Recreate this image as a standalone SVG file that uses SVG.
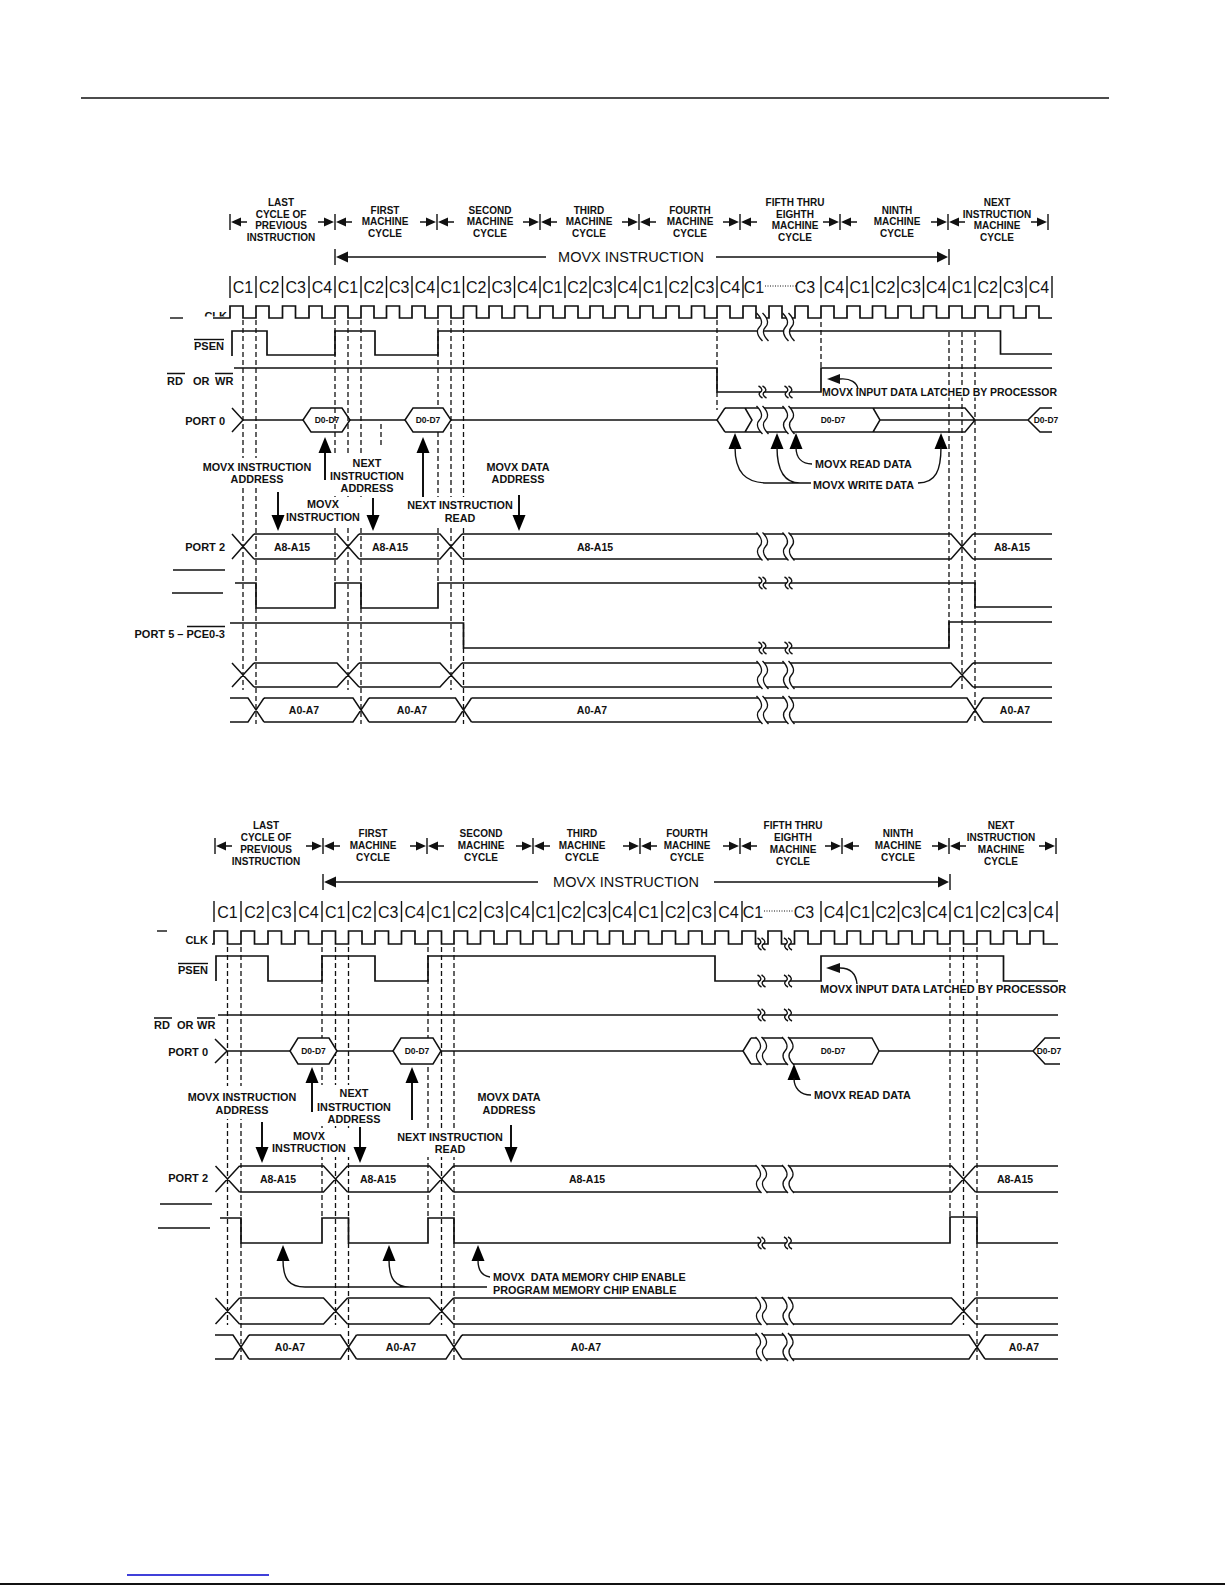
<svg xmlns="http://www.w3.org/2000/svg" width="1225" height="1585" viewBox="0 0 1225 1585">
<style>
.s{fill:none;stroke:#111;stroke-width:1.7}
.b{fill:none;stroke:#111;stroke-width:1.5}
.d{fill:none;stroke:#111;stroke-width:1.3;stroke-dasharray:5 3}
.t{fill:none;stroke:#111;stroke-width:1.4}
.k{fill:#111}
.w{fill:#fff}
.hx{fill:#fff;stroke:#111;stroke-width:1.5}
.hn{fill:none;stroke:#111;stroke-width:1.5}
.dot{fill:none;stroke:#111;stroke-width:1;stroke-dasharray:1 1.5}
text{font-family:"Liberation Sans",Arial,sans-serif;fill:#111}
.hd{font-weight:bold;font-size:10px;text-anchor:middle}
.an{font-weight:bold;font-size:10.8px;text-anchor:middle}
.al{font-weight:bold;font-size:10.8px}
.lb{font-weight:bold;font-size:11px;text-anchor:end}
.ls{font-weight:bold;font-size:11px}
.cy{font-size:16px;text-anchor:middle}
.mv{font-size:14.5px;text-anchor:middle}
.dd{font-weight:bold;font-size:8.5px;text-anchor:middle}
.ab{font-weight:bold;font-size:10.5px;text-anchor:middle}
.ml{font-weight:bold;font-size:10.5px}
</style>
<defs>
<g id="mkm"><path class="t" d="M-17,0H-10M10,0H17M0,-8V8"/><path class="k" d="M-11,-4.5L-1,0L-11,4.5ZM1,0L11,-4.5L11,4.5Z"/></g>
<g id="mks"><path class="t" d="M0,-8V8M10,0H17"/><path class="k" d="M1,0L11,-4.5L11,4.5Z"/></g>
<g id="mke"><path class="t" d="M-17,0H-10M0,-8V8"/><path class="k" d="M-11,-4.5L-1,0L-11,4.5Z"/></g>
<g id="bk"><path class="w" d="M-6,-14C0,-8 0,-3 -3,0C-6,3 -6,8 0,14L6,14C0,8 0,3 3,0C6,-3 6,-8 0,-14Z"/><path class="t" d="M-6,-14C0,-8 0,-3 -3,0C-6,3 -6,8 0,14M0,-14C6,-8 6,-3 3,0C0,3 0,8 6,14"/></g>
<g id="sb"><path class="w" d="M-4,-6C0,-4 0,-1 -2,0C-4,1 -4,4 0,6L4,6C0,4 0,1 2,0C4,-1 4,-4 0,-6Z"/><path class="t" d="M-4,-6C0,-4 0,-1 -2,0C-4,1 -4,4 0,6M0,-6C4,-4 4,-1 2,0C0,1 0,4 4,6"/></g>
<path id="au" d="M0,0L6.5,16L-6.5,16Z"/>
<path id="ad" d="M0,0L6.5,-16L-6.5,-16Z"/>
<clipPath id="cc"><rect x="195" y="300" width="40" height="16.5"/></clipPath>
</defs>

<g id="page">
<path d="M81,98H1109" stroke="#111" stroke-width="1.3"/>
<path d="M127,1575H269" stroke="#0000cc" stroke-width="1.4"/>
<path d="M0,1584H1225" stroke="#111" stroke-width="2"/>
</g>

<!-- ================= TOP DIAGRAM ================= -->
<g id="top-diagram">
<g id="t-hdr">
<use href="#mks" x="230" y="222"/>
<use href="#mkm" x="335" y="222"/>
<use href="#mkm" x="437" y="222"/>
<use href="#mkm" x="540" y="222"/>
<use href="#mkm" x="639" y="222"/>
<use href="#mkm" x="740" y="222"/>
<use href="#mkm" x="840" y="222"/>
<use href="#mkm" x="948" y="222"/>
<use href="#mke" x="1048" y="222"/>
<g class="hd">
<text x="281" y="206">LAST</text><text x="281" y="218">CYCLE OF</text><text x="281" y="229">PREVIOUS</text><text x="281" y="241">INSTRUCTION</text>
<text x="385" y="213.5">FIRST</text><text x="385" y="225">MACHINE</text><text x="385" y="236.5">CYCLE</text>
<text x="490" y="213.5">SECOND</text><text x="490" y="225">MACHINE</text><text x="490" y="236.5">CYCLE</text>
<text x="589" y="213.5">THIRD</text><text x="589" y="225">MACHINE</text><text x="589" y="236.5">CYCLE</text>
<text x="690" y="213.5">FOURTH</text><text x="690" y="225">MACHINE</text><text x="690" y="236.5">CYCLE</text>
<text x="795" y="206">FIFTH THRU</text><text x="795" y="218">EIGHTH</text><text x="795" y="229">MACHINE</text><text x="795" y="241">CYCLE</text>
<text x="897" y="213.5">NINTH</text><text x="897" y="225">MACHINE</text><text x="897" y="236.5">CYCLE</text>
<text x="997" y="206">NEXT</text><text x="997" y="218">INSTRUCTION</text><text x="997" y="229">MACHINE</text><text x="997" y="241">CYCLE</text>
</g>
</g>

<g id="t-movx">
<path class="t" d="M335,249V265M348,257H546M716,257H937M949,249V265"/>
<path class="k" d="M336,257L348,251.5L348,262.5ZM937,251.5L948,257L937,262.5Z"/>
<text class="mv" x="631" y="262.2">MOVX INSTRUCTION</text>
</g>

<g id="t-cycles">
<path class="t" d="M230,276V298M256,276V298M282.5,276V298M309,276V298M335,276V298M361,276V298M386.5,276V298M412,276V298M438,276V298M463.5,276V298M489,276V298M514.5,276V298M540,276V298M565,276V298M590,276V298M615,276V298M640,276V298M666,276V298M691.5,276V298M717,276V298M743,276V298M821,276V298M847,276V298M872.5,276V298M898,276V298M923.5,276V298M949,276V298M975,276V298M1000.5,276V298M1026,276V298M1052,276V298"/>
<path class="dot" d="M765,286H796"/>
<g class="cy">
<text x="243" y="292.5">C1</text><text x="269.3" y="292.5">C2</text><text x="295.8" y="292.5">C3</text><text x="322" y="292.5">C4</text>
<text x="348" y="292.5">C1</text><text x="373.8" y="292.5">C2</text><text x="399.3" y="292.5">C3</text><text x="425" y="292.5">C4</text>
<text x="450.8" y="292.5">C1</text><text x="476.3" y="292.5">C2</text><text x="501.8" y="292.5">C3</text><text x="527.3" y="292.5">C4</text>
<text x="552.5" y="292.5">C1</text><text x="577.5" y="292.5">C2</text><text x="602.5" y="292.5">C3</text><text x="627.5" y="292.5">C4</text>
<text x="653" y="292.5">C1</text><text x="678.8" y="292.5">C2</text><text x="704.3" y="292.5">C3</text><text x="730" y="292.5">C4</text>
<text x="754" y="292.5">C1</text><text x="805" y="292.5">C3</text>
<text x="834" y="292.5">C4</text><text x="859.8" y="292.5">C1</text><text x="885.3" y="292.5">C2</text><text x="910.8" y="292.5">C3</text><text x="936.3" y="292.5">C4</text>
<text x="962" y="292.5">C1</text><text x="987.8" y="292.5">C2</text><text x="1013.3" y="292.5">C3</text><text x="1039" y="292.5">C4</text>
</g>
</g>

<g id="t-dashed">
<path class="d" d="M243,320V690M256,320V724M335,320V583M348,320V690M361,320V724M381,424V448M438,320V583M451,320V690M463.5,320V724M717,320V410M821,322V368M949,332V647M962,332V690M975,332V724"/>
</g>

<g id="t-clk">
<path class="t" d="M170,318H183"/>
<text class="lb" x="227" y="320" clip-path="url(#cc)">CLK</text>
<path class="s" d="M213,318H230V306H243V318H256V306H269V318H282.5V306H295.5V318H309V306H322V318H335V306H348V318H361V306H374V318H386.5V306H399.5V318H412V306H425V318H438V306H451V318H463.5V306H476.5V318H489V306H502V318H514.5V306H527.5V318H540V306H553V318H565V306H578V318H590V306H603V318H615V306H628V318H640V306H653V318H666V306H679V318H691.5V306H704.5V318H717V306H730V318H743V306H756V318H769V306H782V318H795V306H808V318H821V306H834V318H847V306H860V318H872.5V306H885.5V318H898V306H911V318H923.5V306H936.5V318H949V306H962V318H975V306H988V318H1000.5V306H1013.5V318H1026V306H1039V318H1052"/>
</g>

<g id="t-psen">
<text class="lb" x="224" y="349.5">PSEN</text>
<path class="t" d="M194,339.5H224"/>
<path class="s" d="M232,356V331H267V355H335V331H375V355H438V331H1000.5V354H1052"/>
<use href="#bk" x="762.5" y="327"/>
<use href="#bk" x="788.5" y="327"/>
</g>

<g id="t-rdwr">
<text class="ls" x="167" y="385">RD</text><text class="ls" x="193" y="385">OR</text><text class="ls" x="215" y="385">WR</text>
<path class="t" d="M167,373.5H185M215,373.5H233"/>
<path class="s" d="M234,368H717V392H821V368H1052"/>
<use href="#sb" x="762.5" y="392"/>
<use href="#sb" x="788.5" y="392"/>
<rect class="w" x="823" y="386.5" width="240" height="11"/>
<path class="k" d="M827,379L840,374L840,384Z"/>
<path class="t" d="M840,379C851,378 857,383 858,389"/>
<text class="ml" x="822" y="396">MOVX INPUT DATA LATCHED BY PROCESSOR</text>
</g>

<g id="t-port0">
<text class="lb" x="225" y="425">PORT 0</text>
<path class="b" d="M232,408L243,420L232,432M243,420H303M350,420H405M451,420H717"/>
<path class="hn" d="M303,420L311,408H342L350,420L342,432H311Z"/>
<path class="hx" d="M405,420L413,408H443L451,420L443,432H413Z"/>
<path class="b" d="M725,408L717,420L725,432M725,408H965L975,420L965,432H725M745,408L752,420L745,432M873,408L880,420L873,432M880,420H1028M1052,408H1040L1028,420L1040,432H1052"/>
<use href="#bk" x="762.5" y="420"/>
<use href="#bk" x="788.5" y="420"/>
<g class="dd"><text x="327" y="423">D0-D7</text><text x="428" y="423">D0-D7</text><text x="833" y="423">D0-D7</text><text x="1046" y="423">D0-D7</text></g>
</g>

<g id="t-notes">
<rect class="w" x="202" y="458" width="112" height="28"/>
<rect class="w" x="329" y="454" width="77" height="42"/>
<rect class="w" x="285" y="497" width="78" height="28"/>
<rect class="w" x="405" y="497" width="110" height="28"/>
<g class="an">
<text x="257" y="471">MOVX INSTRUCTION</text><text x="257" y="483">ADDRESS</text>
<text x="367" y="467">NEXT</text><text x="367" y="480">INSTRUCTION</text><text x="367" y="492">ADDRESS</text>
<text x="323" y="508">MOVX</text><text x="323" y="521">INSTRUCTION</text>
<text x="460" y="509">NEXT INSTRUCTION</text><text x="460" y="522">READ</text>
<text x="518" y="471">MOVX DATA</text><text x="518" y="483">ADDRESS</text>
</g>
<text class="al" x="815" y="468">MOVX READ DATA</text>
<text class="al" x="813" y="489">MOVX WRITE DATA</text>
<path class="s" style="stroke-width:2" d="M325,452V480M423,452V497M278,492V516M373,498V516M519,495V516"/>
<use href="#au" x="325" y="437"/>
<use href="#au" x="423" y="437"/>
<use href="#ad" x="278" y="531"/>
<use href="#ad" x="373" y="531"/>
<use href="#ad" x="519" y="531"/>
<use href="#au" x="735" y="433"/>
<use href="#au" x="777" y="433"/>
<use href="#au" x="796" y="433"/>
<use href="#au" x="941" y="433"/>
<path class="t" d="M735,447C735,472 745,483 768,483H811M777,447C777,472 785,483 800,483M796,447C796,458 802,464 812,464M941,447C941,470 936,483 918,483"/>
</g>

<g id="t-port2">
<text class="lb" x="225" y="551">PORT 2</text>
<path class="b" d="M232,534L254,559M232,559L254,534M254,534H337L359,559M254,559H337L359,534M359,534H440L462,559M359,559H440L462,534M462,534H951L973,559M462,559H951L973,534M973,534H1052M973,559H1052"/>
<use href="#bk" x="762.5" y="546.5"/>
<use href="#bk" x="788.5" y="546.5"/>
<g class="ab"><text x="292" y="550.5">A8-A15</text><text x="390" y="550.5">A8-A15</text><text x="595" y="550.5">A8-A15</text><text x="1012" y="550.5">A8-A15</text></g>
</g>

<g id="t-ce">
<path class="t" d="M173,570H225M172,593H223"/>
<path class="s" d="M235,583H256V608H335V583H361V608H438V583H975V607H1052"/>
<use href="#sb" x="762.5" y="583"/>
<use href="#sb" x="788.5" y="583"/>
</g>

<g id="t-port5">
<text class="lb" x="225" y="638">PORT 5 – PCE0-3</text>
<path class="t" d="M187,626.5H225"/>
<path class="s" d="M230,623H463.5V648H949V622H1052"/>
<use href="#sb" x="762.5" y="648"/>
<use href="#sb" x="788.5" y="648"/>
</g>

<g id="t-bus1">
<path class="b" d="M232,663L254,687M232,687L254,663M254,663H337L359,687M254,687H337L359,663M359,663H440L462,687M359,687H440L462,663M462,663H951L973,687M462,687H951L973,663M973,663H1052M973,687H1052"/>
<use href="#bk" x="762.5" y="675"/>
<use href="#bk" x="788.5" y="675"/>
</g>

<g id="t-bus2">
<path class="b" d="M230,698H248L264,722M230,722H248L264,698M264,698H353L369,722M264,722H353L369,698M369,698H455.5L471.5,722M369,722H455.5L471.5,698M471.5,698H967L983,722M471.5,722H967L983,698M983,698H1052M983,722H1052"/>
<use href="#bk" x="762.5" y="710"/>
<use href="#bk" x="788.5" y="710"/>
<g class="ab"><text x="304" y="713.8">A0-A7</text><text x="412" y="713.8">A0-A7</text><text x="592" y="713.8">A0-A7</text><text x="1015" y="713.8">A0-A7</text></g>
</g>
</g>

<!-- ================= BOTTOM DIAGRAM ================= -->
<g id="bottom-diagram">
<g id="b-hdr">
<use href="#mks" x="215" y="846"/>
<use href="#mkm" x="323" y="846"/>
<use href="#mkm" x="427" y="846"/>
<use href="#mkm" x="533" y="846"/>
<use href="#mkm" x="640" y="846"/>
<use href="#mkm" x="740" y="846"/>
<use href="#mkm" x="842" y="846"/>
<use href="#mkm" x="949" y="846"/>
<use href="#mke" x="1056" y="846"/>
<g class="hd">
<text x="266" y="829">LAST</text><text x="266" y="841">CYCLE OF</text><text x="266" y="852.5">PREVIOUS</text><text x="266" y="864.5">INSTRUCTION</text>
<text x="373" y="837">FIRST</text><text x="373" y="848.5">MACHINE</text><text x="373" y="860.5">CYCLE</text>
<text x="481" y="837">SECOND</text><text x="481" y="848.5">MACHINE</text><text x="481" y="860.5">CYCLE</text>
<text x="582" y="837">THIRD</text><text x="582" y="848.5">MACHINE</text><text x="582" y="860.5">CYCLE</text>
<text x="687" y="837">FOURTH</text><text x="687" y="848.5">MACHINE</text><text x="687" y="860.5">CYCLE</text>
<text x="793" y="829">FIFTH THRU</text><text x="793" y="841">EIGHTH</text><text x="793" y="852.5">MACHINE</text><text x="793" y="864.5">CYCLE</text>
<text x="898" y="837">NINTH</text><text x="898" y="848.5">MACHINE</text><text x="898" y="860.5">CYCLE</text>
<text x="1001" y="829">NEXT</text><text x="1001" y="841">INSTRUCTION</text><text x="1001" y="852.5">MACHINE</text><text x="1001" y="864.5">CYCLE</text>
</g>
</g>

<g id="b-movx">
<path class="t" d="M323,874V890M336,882H538M714,882H938M950,874V890"/>
<path class="k" d="M324,882L336,876.5L336,887.5ZM938,876.5L949,882L938,887.5Z"/>
<text class="mv" x="626" y="887.2">MOVX INSTRUCTION</text>
</g>

<g id="b-cycles">
<path class="t" d="M214,901V922M241,901V922M268,901V922M295,901V922M322,901V922M348.5,901V922M375,901V922M401.5,901V922M428,901V922M454,901V922M480.5,901V922M507,901V922M533,901V922M558.5,901V922M584,901V922M609.5,901V922M635,901V922M662,901V922M688.5,901V922M715,901V922M742,901V922M821,901V922M847,901V922M873,901V922M898.5,901V922M924,901V922M950,901V922M977,901V922M1003.5,901V922M1030,901V922M1057,901V922"/>
<path class="dot" d="M764,911H793"/>
<g class="cy">
<text x="227.5" y="918">C1</text><text x="254.5" y="918">C2</text><text x="281.5" y="918">C3</text><text x="308.5" y="918">C4</text>
<text x="335.3" y="918">C1</text><text x="361.8" y="918">C2</text><text x="388.3" y="918">C3</text><text x="414.8" y="918">C4</text>
<text x="441" y="918">C1</text><text x="467.3" y="918">C2</text><text x="493.8" y="918">C3</text><text x="520" y="918">C4</text>
<text x="545.8" y="918">C1</text><text x="571.3" y="918">C2</text><text x="596.8" y="918">C3</text><text x="622.3" y="918">C4</text>
<text x="648.5" y="918">C1</text><text x="675.3" y="918">C2</text><text x="701.8" y="918">C3</text><text x="728.5" y="918">C4</text>
<text x="753" y="918">C1</text><text x="804" y="918">C3</text>
<text x="834" y="918">C4</text><text x="860" y="918">C1</text><text x="885.8" y="918">C2</text><text x="911.3" y="918">C3</text><text x="937" y="918">C4</text>
<text x="963.5" y="918">C1</text><text x="990.3" y="918">C2</text><text x="1016.8" y="918">C3</text><text x="1043.5" y="918">C4</text>
</g>
</g>

<g id="b-dashed">
<path class="d" d="M227.5,947V1325M241,947V1360M322,947V1218M335.5,947V1325M348.5,947V1360M428,947V1218M441.5,947V1325M454,947V1360M950,947V1217M963.5,947V1325M977,947V1360"/>
</g>

<g id="b-clk">
<path class="t" d="M157,931H167"/>
<text class="lb" x="208" y="944">CLK</text>
<path class="s" d="M212,944H214V931H227.5V944H241V931H254.5V944H268V931H281.5V944H295V931H308.5V944H322V931H335.5V944H348.5V931H362V944H375V931H388.5V944H401.5V931H415V944H428V931H441.5V944H454V931H467.5V944H480.5V931H494V944H507V931H520.5V944H533V931H546.5V944H558.5V931H572V944H584V931H597.5V944H609.5V931H623V944H635V931H648.5V944H662V931H675.5V944H688.5V931H702V944H715V931H728.5V944H742V931H755.5V944H768V931H781.5V944H794.5V931H808V944H821V931H834.5V944H847V931H860.5V944H873V931H886.5V944H898.5V931H912V944H924V931H937.5V944H950V931H963.5V944H977V931H990.5V944H1003.5V931H1017V944H1030V931H1043.5V944H1058"/>
<use href="#sb" x="761.5" y="944"/>
<use href="#sb" x="788" y="944"/>
</g>

<g id="b-psen">
<text class="lb" x="208" y="974">PSEN</text>
<path class="t" d="M178,963.5H208"/>
<path class="s" d="M216,981V956H268V981H322V956H375V981H428V956H715V981H821V956H1003.5V981H1058"/>
<use href="#sb" x="761.5" y="981"/>
<use href="#sb" x="788" y="981"/>
<rect class="w" x="822" y="983" width="252" height="13"/>
<path class="k" d="M826,968L840,963L840,973Z"/>
<path class="t" d="M840,968C851,968 856,974 857,984"/>
<text class="ml" x="820" y="993" style="font-size:11px">MOVX INPUT DATA LATCHED BY PROCESSOR</text>
</g>

<g id="b-rdwr">
<text class="ls" x="154" y="1029">RD</text><text class="ls" x="177" y="1029">OR</text><text class="ls" x="197" y="1029">WR</text>
<path class="t" d="M154,1018H172M197,1018H215"/>
<path class="s" d="M218,1015H1058"/>
<use href="#sb" x="761.5" y="1015"/>
<use href="#sb" x="788" y="1015"/>
</g>

<g id="b-port0">
<text class="lb" x="208" y="1056">PORT 0</text>
<path class="b" d="M215,1039L227,1051L215,1063M227,1051H290M337,1051H393M441,1051H743"/>
<path class="hx" d="M290,1051L298,1038H329L337,1051L329,1064H298Z"/>
<path class="hx" d="M393,1051L401,1038H433L441,1051L433,1064H401Z"/>
<path class="b" d="M751,1038L743,1051L751,1064M751,1038H872L879,1051L872,1064H751M879,1051H1033M1060,1038H1045L1033,1051L1045,1064H1060"/>
<use href="#bk" x="761.5" y="1051"/>
<use href="#bk" x="788" y="1051"/>
<g class="dd"><text x="313.5" y="1054">D0-D7</text><text x="417" y="1054">D0-D7</text><text x="833" y="1054">D0-D7</text><text x="1049" y="1054">D0-D7</text></g>
</g>

<g id="b-notes">
<rect class="w" x="185" y="1086" width="115" height="33"/>
<rect class="w" x="316" y="1085" width="78" height="41"/>
<rect class="w" x="270" y="1129" width="80" height="28"/>
<rect class="w" x="395" y="1129" width="110" height="28"/>
<g class="an">
<text x="242" y="1101">MOVX INSTRUCTION</text><text x="242" y="1114">ADDRESS</text>
<text x="354" y="1097">NEXT</text><text x="354" y="1111">INSTRUCTION</text><text x="354" y="1123">ADDRESS</text>
<text x="309" y="1140">MOVX</text><text x="309" y="1152">INSTRUCTION</text>
<text x="450" y="1141">NEXT INSTRUCTION</text><text x="450" y="1153">READ</text>
<text x="509" y="1101">MOVX DATA</text><text x="509" y="1114">ADDRESS</text>
</g>
<text class="al" x="814" y="1099">MOVX READ DATA</text>
<path class="s" style="stroke-width:2" d="M312,1082V1112M412,1082V1120M262,1122V1148M360,1127V1148M511,1125V1148"/>
<use href="#au" x="312" y="1067"/>
<use href="#au" x="412" y="1067"/>
<use href="#ad" x="262" y="1163"/>
<use href="#ad" x="360" y="1163"/>
<use href="#ad" x="511" y="1163"/>
<use href="#au" x="794" y="1064"/>
<path class="t" d="M794,1078C794,1088 800,1095 811,1095"/>
</g>

<g id="b-port2">
<text class="lb" x="208" y="1182">PORT 2</text>
<path class="b" d="M215.5,1166L239.5,1192M215.5,1192L239.5,1166M239.5,1166H323.5L347.5,1192M239.5,1192H323.5L347.5,1166M347.5,1166H429.5L453.5,1192M347.5,1192H429.5L453.5,1166M453.5,1166H951.5L975.5,1192M453.5,1192H951.5L975.5,1166M975.5,1166H1058M975.5,1192H1058"/>
<use href="#bk" x="761.5" y="1179"/>
<use href="#bk" x="788" y="1179"/>
<g class="ab"><text x="278" y="1182.8">A8-A15</text><text x="378" y="1182.8">A8-A15</text><text x="587" y="1182.8">A8-A15</text><text x="1015" y="1182.8">A8-A15</text></g>
</g>

<g id="b-ce">
<path class="t" d="M160,1204H212M158,1228H210"/>
<path class="s" d="M220,1218H241V1243H322V1218H348.5V1243H428V1218H454V1243H950V1217H977V1243H1058"/>
<use href="#sb" x="761.5" y="1243"/>
<use href="#sb" x="788" y="1243"/>
<use href="#au" x="283" y="1245"/>
<use href="#au" x="389" y="1245"/>
<use href="#au" x="478" y="1245"/>
<path class="t" d="M283,1260C283,1280 290,1287 305,1287H487M389,1260C389,1280 396,1287 410,1287M478,1260C478,1270 482,1276 490,1277"/>
<text class="al" x="493" y="1281" style="white-space:pre">MOVX  DATA MEMORY CHIP ENABLE</text>
<text class="al" x="493" y="1293.5">PROGRAM MEMORY CHIP ENABLE</text>
</g>

<g id="b-bus1">
<path class="b" d="M215.5,1298L239.5,1324M215.5,1324L239.5,1298M239.5,1298H323.5L347.5,1324M239.5,1324H323.5L347.5,1298M347.5,1298H429.5L453.5,1324M347.5,1324H429.5L453.5,1298M453.5,1298H951.5L975.5,1324M453.5,1324H951.5L975.5,1298M975.5,1298H1058M975.5,1324H1058"/>
<use href="#bk" x="761.5" y="1311"/>
<use href="#bk" x="788" y="1311"/>
</g>

<g id="b-bus2">
<path class="b" d="M215,1335H233L249,1359M215,1359H233L249,1335M249,1335H340.5L356.5,1359M249,1359H340.5L356.5,1335M356.5,1335H446L462,1359M356.5,1359H446L462,1335M462,1335H969L985,1359M462,1359H969L985,1335M985,1335H1058M985,1359H1058"/>
<use href="#bk" x="761.5" y="1347"/>
<use href="#bk" x="788" y="1347"/>
<g class="ab"><text x="290" y="1350.8">A0-A7</text><text x="401" y="1350.8">A0-A7</text><text x="586" y="1350.8">A0-A7</text><text x="1024" y="1350.8">A0-A7</text></g>
</g>
</g>
</svg>
